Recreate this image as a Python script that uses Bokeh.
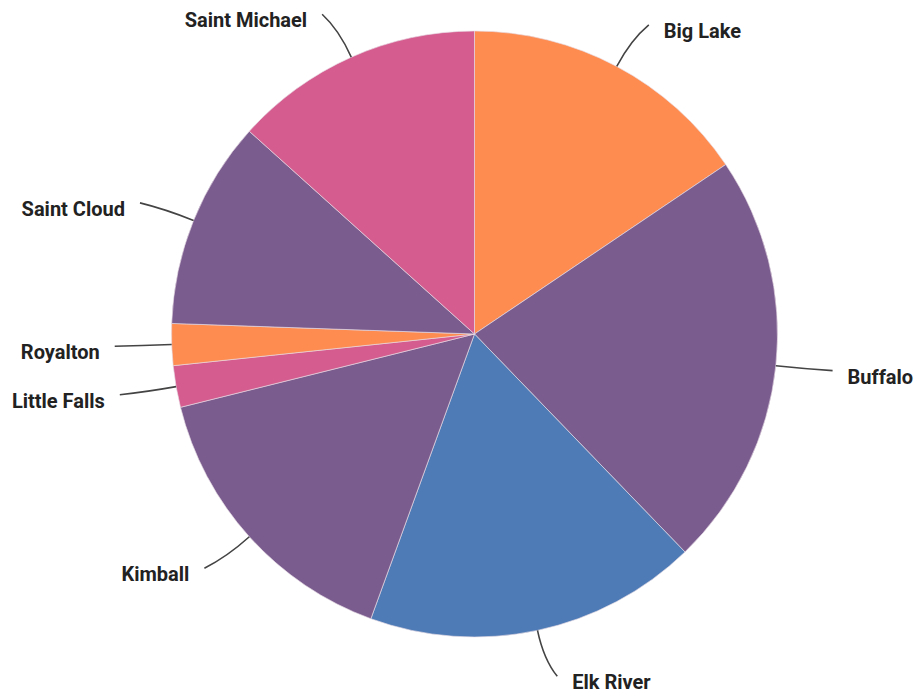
import math
from bokeh.plotting import figure
from bokeh.models import Range1d, ColumnDataSource
from bokeh.core.properties import value
from bokeh.embed import file_html
from bokeh.resources import INLINE

# ---- data ----
cities = ["Big Lake", "Buffalo", "Elk River", "Kimball", "Little Falls",
          "Royalton", "Saint Cloud", "Saint Michael"]
counts = [7, 10, 8, 7, 1, 1, 5, 6]
colors = ["#FE8B4F", "#7B5C8E", "#4E7BB5", "#7B5C8E", "#D45C8E",
          "#FE8B4F", "#7B5C8E", "#D45C8E"]

W, H = 917, 700
CX, CY, R = 474, H - 333.5, 303

p = figure(width=W, height=H, output_backend="svg", toolbar_location=None,
           x_range=Range1d(0, W), y_range=Range1d(0, H), min_border=0,
           match_aspect=False)
p.axis.visible = False
p.grid.visible = False
p.outline_line_color = None
p.background_fill_color = "white"

total = sum(counts)
starts, ends, mids = [], [], []
cum = 0
for c in counts:
    a0 = math.pi / 2 - 2 * math.pi * cum / total
    cum += c
    a1 = math.pi / 2 - 2 * math.pi * cum / total
    starts.append(a0)
    ends.append(a1)
    mids.append((a0 + a1) / 2)

src = ColumnDataSource(dict(x=[CX] * len(counts), y=[CY] * len(counts),
                            start=starts, end=ends, color=colors, city=cities))
p.wedge(x="x", y="y", radius=R, start_angle="start", end_angle="end",
        direction="clock", fill_color="color", line_color="#E8DDE6",
        line_width=0.8, line_alpha=0.8, source=src)

# leader lines and labels
x0s, y0s, x1s, y1s, cxs, cys = [], [], [], [], [], []
lx, ly, aligns = [], [], []
for m in mids:
    dx, dy = math.cos(m), math.sin(m)
    sx = 1 if dx >= 0 else -1
    px, py = CX + R * dx, CY + R * dy
    ex = px + 47 * dx + sx * 10
    ey = py + 47 * dy
    cx_, cy_ = px + 30 * dx, py + 30 * dy
    x0s.append(px); y0s.append(py); x1s.append(ex); y1s.append(ey)
    cxs.append(cx_); cys.append(cy_)
    lx.append(ex + sx * 15)
    ly.append(ey - 6)
    aligns.append("left" if sx > 0 else "right")

p.quadratic(x0=x0s, y0=y0s, x1=x1s, y1=y1s, cx=cxs, cy=cys,
            line_color="#444444", line_width=1.6)

lsrc = ColumnDataSource(dict(x=lx, y=ly, text=cities, align=aligns))
p.text(x="x", y="y", text="text", text_align="align", text_baseline="middle",
       text_font=value("Roboto"), text_font_style="bold",
       text_font_size="20px", text_color="#222222", source=lsrc)

open("out.html", "w").write(file_html(p, INLINE))
